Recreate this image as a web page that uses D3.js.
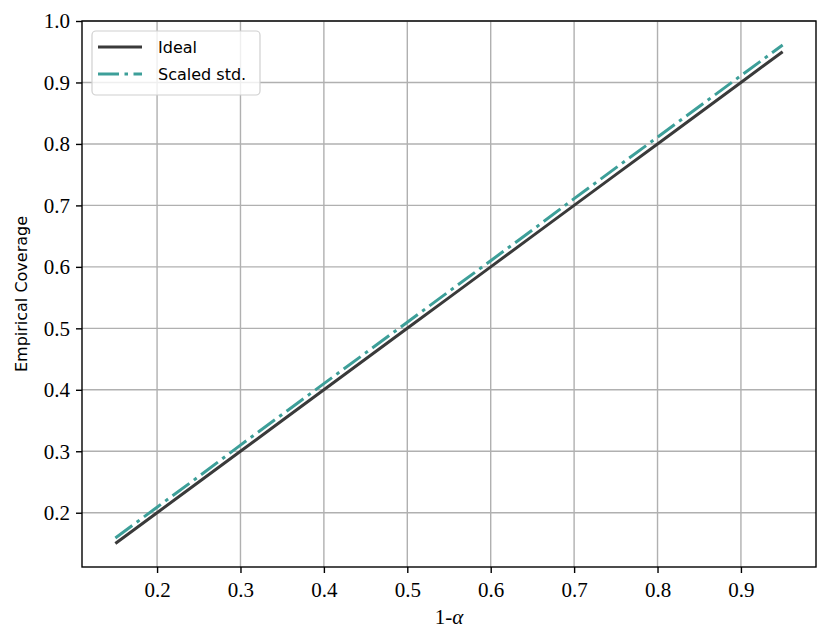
<!DOCTYPE html>
<html><head><meta charset="utf-8">
<script src="https://cdn.jsdelivr.net/npm/d3@7"></script>
<style>body{margin:0;background:#fff}</style>
</head><body>
<svg id="c" width="831" height="642"></svg>
<script>
const xValues = [0.15,0.20,0.25,0.30,0.35,0.40,0.45,0.50,0.55,0.60,0.65,0.70,0.75,0.80,0.85,0.90,0.95];
const idealValues = [0.15,0.20,0.25,0.30,0.35,0.40,0.45,0.50,0.55,0.60,0.65,0.70,0.75,0.80,0.85,0.90,0.95];
const scaledValues = [0.159,0.209,0.259,0.310,0.360,0.410,0.460,0.510,0.560,0.610,0.660,0.711,0.761,0.811,0.861,0.911,0.961];
const xTicks = [0.2,0.3,0.4,0.5,0.6,0.7,0.8,0.9];
const yTicks = [0.2,0.3,0.4,0.5,0.6,0.7,0.8,0.9,1.0];
const seriesNames = ["Ideal","Scaled std."];

const SERIF="'Liberation Serif','DejaVu Serif',serif", SANS="'DejaVu Sans',sans-serif";
const L=82,R=816,T=21,B=567;
const svg=d3.select("#c");
const x=d3.scaleLinear().domain([0.11,0.99]).range([L,R]);
const y=d3.scaleLinear().domain([0.1117,1.0]).range([B,T]);

const g=svg.append("g");
g.selectAll(".gx").data(xTicks).enter().append("line")
 .attr("x1",d=>x(d)).attr("x2",d=>x(d)).attr("y1",T).attr("y2",B)
 .attr("stroke","#b0b0b0").attr("stroke-width",1.4);
g.selectAll(".gy").data(yTicks).enter().append("line")
 .attr("y1",d=>y(d)).attr("y2",d=>y(d)).attr("x1",L).attr("x2",R)
 .attr("stroke","#b0b0b0").attr("stroke-width",1.4);

const line=d3.line().x((d,i)=>x(xValues[i])).y(d=>y(d));
g.append("path").datum(idealValues).attr("d",line).attr("fill","none")
 .attr("stroke","#3a3a3a").attr("stroke-width",3);
g.append("path").datum(scaledValues).attr("d",line).attr("fill","none")
 .attr("stroke","#3d9f99").attr("stroke-width",3).attr("stroke-dasharray","21,5.5,3.5,5.5");

const fmt=d3.format(".1f");
const xa=svg.append("g").attr("transform",`translate(0,${B})`)
 .call(d3.axisBottom(x).tickValues(xTicks).tickFormat(fmt).tickSize(6).tickSizeOuter(0));
const ya=svg.append("g").attr("transform",`translate(${L},0)`)
 .call(d3.axisLeft(y).tickValues(yTicks).tickFormat(fmt).tickSize(6).tickSizeOuter(0));
[xa,ya].forEach(a=>{
 a.style("font-family",SERIF).style("font-size","21px");
 a.select(".domain").remove();
 a.selectAll(".tick line").attr("stroke","#000").attr("stroke-width",1.4);
 a.selectAll(".tick text").style("font-family",SERIF).style("font-size","21px").attr("fill","#000");
});
xa.selectAll(".tick text").attr("dy",null).attr("y",30);
ya.selectAll(".tick text").attr("x",-12).attr("dy","0.33em");
svg.append("rect").attr("x",L).attr("y",T).attr("width",R-L).attr("height",B-T)
 .attr("fill","none").attr("stroke","#000").attr("stroke-width",1.4);

const xl=svg.append("text").style("font-family",SERIF).style("font-size","21px")
 .attr("x",(L+R)/2).attr("y",624).attr("text-anchor","middle");
xl.append("tspan").text("1-");
xl.append("tspan").style("font-style","italic").text("α");
svg.append("text").style("font-family",SANS).style("font-size","16px")
 .attr("transform",`translate(27,${(T+B)/2}) rotate(-90)`).attr("text-anchor","middle")
 .text("Empirical Coverage");

const lg=svg.append("g");
lg.append("rect").attr("x",92).attr("y",31).attr("width",168).attr("height",64).attr("rx",4)
 .attr("fill","#fff").attr("fill-opacity",0.8).attr("stroke","#d0d0d0").attr("stroke-width",1.2);
const colors=["#3a3a3a","#3d9f99"], dashes=[null,"21,5.5,3.5,5.5"];
seriesNames.forEach((n,i)=>{
 const yy=47+i*27;
 lg.append("line").attr("x1",98).attr("x2",142).attr("y1",yy).attr("y2",yy)
  .attr("stroke",colors[i]).attr("stroke-width",3).attr("stroke-dasharray",dashes[i]);
 lg.append("text").style("font-family",SANS).style("font-size","16px").attr("x",158).attr("y",yy+6).text(n);
});
</script>
</body></html>
